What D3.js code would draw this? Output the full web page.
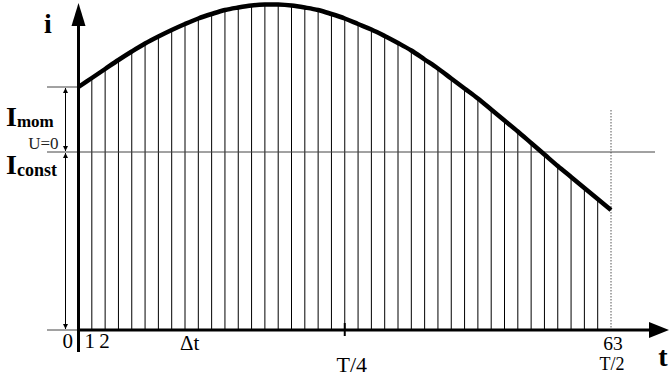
<!DOCTYPE html>
<html>
<head>
<meta charset="utf-8">
<script src="https://cdn.jsdelivr.net/npm/d3@7"></script>
<style>
  body { margin: 0; background: #fff; }
  text { font-family: "Liberation Serif", "Times New Roman", Times, serif; }
</style>
</head>
<body>
<div id="chart"></div>
<script>
var svgWidth = 669;
var svgHeight = 381;

// current at each strip boundary k = 0..40
var strips = d3.range(0, 41);
var current = [243, 252, 261, 270, 278.5, 286.5, 293.5, 300, 306, 311.5, 316, 320, 322.5, 324.5, 325.5,
  325.5, 324.5, 322.5, 320, 316, 311.5, 306, 300.5, 294, 287, 279.5, 270.5, 261.5, 251.5, 241.5,
  231.5, 220.5, 209.5, 198.5, 187, 175.5, 164, 153, 142, 131, 120];
var constLevel = 178;   // U=0 line
var stripLabels = ["0", "1", "2"];
var stripLabelPos = [-0.8, 0.85, 1.95];
var endLabel = "63";
var periodLabels = ["T/4", "T/2"];
var periodPos = [20, 40];

var svg = d3.select("#chart")
  .append("svg")
  .attr("width", svgWidth)
  .attr("height", svgHeight);

var x = d3.scaleLinear().domain([0, 40]).range([78.5, 611]);
var y = d3.scaleLinear().domain([0, 330]).range([330, 0]);

// arrow markers
var defs = svg.append("defs");
defs.append("marker")
  .attr("id", "head")
  .attr("viewBox", "0 0 10 10")
  .attr("refX", 10).attr("refY", 5)
  .attr("markerWidth", 5).attr("markerHeight", 5)
  .attr("markerUnits", "userSpaceOnUse")
  .attr("orient", "auto-start-reverse")
  .append("path").attr("d", "M0,0 L10,5 L0,10 z").attr("fill", "#000");

// vertical strips
svg.selectAll("line.strip")
  .data(strips.slice(1, 40))
  .join("line")
  .attr("class", "strip")
  .attr("x1", d => x(d)).attr("x2", d => x(d))
  .attr("y1", y(0)).attr("y2", d => y(current[d]))
  .attr("stroke", "#000")
  .attr("stroke-width", 1);

// dotted end line at T/2
svg.append("line")
  .attr("x1", x(40)).attr("x2", x(40))
  .attr("y1", 110).attr("y2", y(0))
  .attr("stroke", "#555")
  .attr("stroke-dasharray", "1.5,1.5");

// U=0 line
svg.append("line")
  .attr("x1", 47).attr("x2", 655)
  .attr("y1", y(constLevel)).attr("y2", y(constLevel))
  .attr("stroke", "#444").attr("stroke-width", 1);

// helper lines on the left
svg.append("line")
  .attr("x1", 47).attr("x2", x(0))
  .attr("y1", y(current[0])).attr("y2", y(current[0]))
  .attr("stroke", "#444");
svg.append("line")
  .attr("x1", 47).attr("x2", x(0))
  .attr("y1", y(0)).attr("y2", y(0))
  .attr("stroke", "#444");

// dimension arrows
svg.append("line")
  .attr("x1", 65.5).attr("x2", 65.5)
  .attr("y1", y(current[0]) + 1).attr("y2", y(constLevel) - 1)
  .attr("stroke", "#000")
  .attr("marker-start", "url(#head)")
  .attr("marker-end", "url(#head)");
svg.append("line")
  .attr("x1", 65.5).attr("x2", 65.5)
  .attr("y1", y(constLevel) + 1).attr("y2", y(0) - 1)
  .attr("stroke", "#000")
  .attr("marker-start", "url(#head)")
  .attr("marker-end", "url(#head)");

// curve
var line = d3.line()
  .x((d, i) => x(strips[i]))
  .y(d => y(d))
  .curve(d3.curveCatmullRom);
svg.append("path")
  .datum(current)
  .attr("d", line)
  .attr("fill", "none")
  .attr("stroke", "#000")
  .attr("stroke-width", 4.5)
  .attr("stroke-linecap", "butt");

// axes
svg.append("line")
  .attr("x1", x(0)).attr("x2", x(0))
  .attr("y1", 352).attr("y2", 22)
  .attr("stroke", "#000").attr("stroke-width", 3);
svg.append("path")
  .attr("d", `M${x(0) - 7},26 L${x(0)},3 L${x(0) + 7},26 z`)
  .attr("fill", "#000");

svg.append("line")
  .attr("x1", x(0)).attr("x2", 652)
  .attr("y1", y(0)).attr("y2", y(0))
  .attr("stroke", "#000").attr("stroke-width", 3);
svg.append("path")
  .attr("d", `M649,${y(0) - 8} L669,${y(0)} L649,${y(0) + 8} z`)
  .attr("fill", "#000");

// T/4 tick
svg.append("line")
  .attr("x1", x(20)).attr("x2", x(20))
  .attr("y1", y(0) - 7).attr("y2", y(0) + 6)
  .attr("stroke", "#000").attr("stroke-width", 2);

// labels
svg.selectAll("text.strip")
  .data(stripLabels)
  .join("text")
  .attr("class", "strip")
  .attr("x", (d, i) => x(stripLabelPos[i]))
  .attr("y", 347.5)
  .attr("text-anchor", "middle")
  .attr("font-size", 21)
  .text(d => d);

svg.append("text")
  .attr("x", x(40) + 2).attr("y", 350)
  .attr("text-anchor", "middle")
  .attr("font-size", 19.5)
  .text(endLabel);

svg.append("text")
  .attr("x", x(periodPos[0]) + 7).attr("y", 372)
  .attr("text-anchor", "middle")
  .attr("font-size", 22)
  .text(periodLabels[0]);

svg.append("text")
  .attr("x", x(periodPos[1]) + 1).attr("y", 369.5)
  .attr("text-anchor", "middle")
  .attr("font-size", 18)
  .text(periodLabels[1]);

svg.append("text")
  .attr("x", x(8.35)).attr("y", 350)
  .attr("text-anchor", "middle")
  .attr("font-size", 21)
  .text("\u0394t");

svg.append("text")
  .attr("x", 48).attr("y", 33)
  .attr("text-anchor", "middle")
  .attr("font-size", 28).attr("font-weight", "bold")
  .text("i");

svg.append("text")
  .attr("x", 663).attr("y", 366)
  .attr("text-anchor", "middle")
  .attr("font-size", 28).attr("font-weight", "bold")
  .text("t");

var imom = svg.append("text")
  .attr("x", 6).attr("y", 126)
  .attr("font-weight", "bold");
imom.append("tspan").attr("font-size", 28).text("I");
imom.append("tspan").attr("font-size", 17).attr("dy", 1).text("mom");

svg.append("text")
  .attr("x", 58.5).attr("y", 148.5)
  .attr("text-anchor", "end")
  .attr("font-size", 17)
  .attr("fill", "#222")
  .text("U=0");

var iconst = svg.append("text")
  .attr("x", 6).attr("y", 174)
  .attr("font-weight", "bold");
iconst.append("tspan").attr("font-size", 28).text("I");
iconst.append("tspan").attr("font-size", 18).attr("dy", 2).text("const");
</script>
</body>
</html>
